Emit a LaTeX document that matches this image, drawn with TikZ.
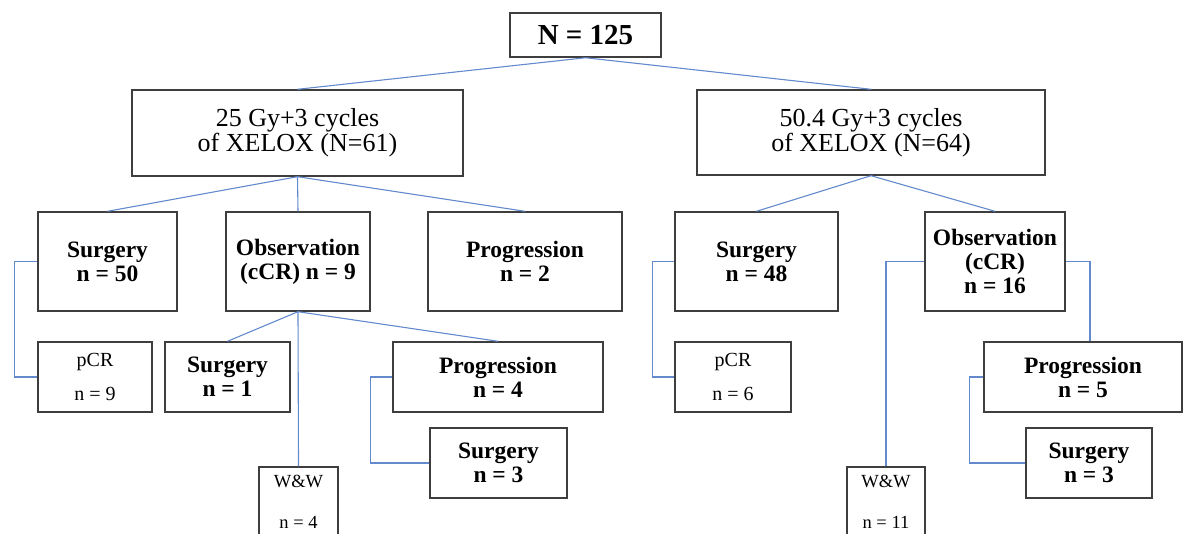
\documentclass[tikz,border=0pt]{standalone}
\usepackage{fontspec}
\setmainfont{Liberation Serif}
\usetikzlibrary{calc}
\definecolor{boxGray}{RGB}{62,62,62}
\definecolor{branchBlue}{RGB}{98,138,204}

\begin{document}
\begin{tikzpicture}[%
    x=1pt, y=-1pt,
    rootName/.style={
      rectangle,
      draw=boxGray,
      line width=1.5pt,
      align=center,
      inner sep=0pt,
      minimum height=44,
      font=\fontsize{29}{32}\selectfont\bfseries
    },
    armName/.style={
      rectangle,
      draw=boxGray,
      line width=1.4pt,
      align=center,
      inner sep=0pt,
      font=\fontsize{26}{23}\selectfont
    },
    outcomeName/.style={
      rectangle,
      draw=boxGray,
      line width=1.4pt,
      align=center,
      inner sep=0pt,
      minimum height=99,
      font=\fontsize{23.5}{24}\selectfont\bfseries
    },
    followName/.style={
      outcomeName,
      minimum height=70
    },
    pathoName/.style={
      rectangle,
      draw=boxGray,
      line width=1.3pt,
      align=center,
      inner sep=0pt,
      minimum height=70,
      font=\fontsize{20}{34}\selectfont
    },
    wwName/.style={
      pathoName,
      minimum height=70,
      font=\fontsize{18.5}{41}\selectfont
    },
    branch/.style={
      draw=branchBlue,
      line width=1.1pt
    }
  ]

    % Page frame
    \useasboundingbox (0,0) rectangle (1183,534);
    \clip (0,0) rectangle (1183,534);

    \draw (585.5,35) node[rootName, minimum width=151] (A) {N = 125}
          (297.5,133) node[armName, minimum width=331, minimum height=86] (B) {25 Gy+3 cycles\\of XELOX (N=61)}
          (871,132.5) node[armName, minimum width=348, minimum height=85] (C) {50.4 Gy+3 cycles\\of XELOX (N=64)}
          (107.5,261.5) node[outcomeName, minimum width=139] (D) {Surgery\\n = 50}
          (298,261.5) node[outcomeName, minimum width=144] (E) {Observation\\(cCR) n = 9}
          (525,261.5) node[outcomeName, minimum width=194] (F) {Progression\\n = 2}
          (756.5,261.5) node[outcomeName, minimum width=163] (G) {Surgery\\n = 48}
          (995,261.5) node[outcomeName, minimum width=140] (H) {Observation\\(cCR)\\n = 16}
          (95,377) node[pathoName, minimum width=114] (I) {pCR\\n = 9}
          (227.5,377) node[followName, minimum width=125] (J) {Surgery\\n = 1}
          (498,377) node[followName, minimum width=210] (K) {Progression\\n = 4}
          (298.5,502) node[wwName, minimum width=79] (L) {W\&W\\n = 4}
          (498.5,463) node[followName, minimum width=137] (M) {Surgery\\n = 3}
          (733,377) node[pathoName, minimum width=116] (N) {pCR\\n = 6}
          (886,502) node[wwName, minimum width=78] (O) {W\&W\\n = 11}
          (1083,377) node[followName, minimum width=198] (P) {Progression\\n = 5}
          (1089,463) node[followName, minimum width=126] (Q) {Surgery\\n = 3};

    % Arms
    \draw[branch] (A.south) -- (B.north);
    \draw[branch] (A.south) -- (C.north);

    % Short course arm
    \draw[branch] (B.south) -- (D.north);
    \draw[branch] (B.south) -- (E.north);
    \draw[branch] (B.south) -- (F.north);
    \draw[branch] (D.west) -- ++(-23,0) |- (I.west);
    \draw[branch] (E.south) -- (J.north);
    \draw[branch] (E.south) -- (K.north);
    \draw[branch] (E.south) -- (L.north);
    \draw[branch] (K.west) -- ++(-22,0) |- (M.west);

    % Long course arm
    \draw[branch] (C.south) -- (G.north);
    \draw[branch] (C.south) -- (H.north);
    \draw[branch] (G.west) -- ++(-22,0) |- (N.west);
    \draw[branch] (H.west) -| (O.north);
    \draw[branch] (H.east) -| ([xshift=7pt]P.north);
    \draw[branch] (P.west) -- ++(-14,0) |- (Q.west);
\end{tikzpicture}
\end{document}
